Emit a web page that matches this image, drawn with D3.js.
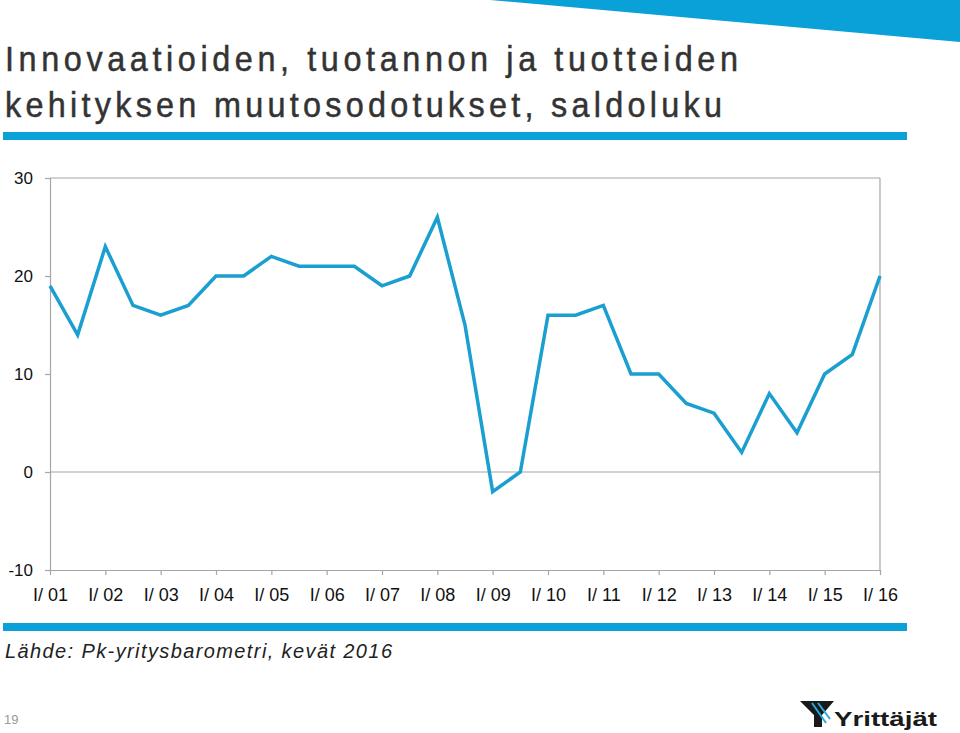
<!DOCTYPE html>
<html>
<head>
<meta charset="utf-8">
<script src="https://cdn.jsdelivr.net/npm/d3@7"></script>
<style>
  html, body { margin: 0; padding: 0; background: #fff; }
  svg { display: block; }
</style>
</head>
<body>
<svg id="chart" width="960" height="733"></svg>
<script>
// ---- Data ----
const titleLines = ["Innovaatioiden, tuotannon ja tuotteiden", "kehityksen muutosodotukset, saldoluku"];
const sourceText = "Lähde: Pk-yritysbarometri, kevät 2016";
const pageNumber = "19";
const tickLabels = ["I/ 01","I/ 02","I/ 03","I/ 04","I/ 05","I/ 06","I/ 07","I/ 08","I/ 09","I/ 10","I/ 11","I/ 12","I/ 13","I/ 14","I/ 15","I/ 16"];
const yTicks = [-10, 0, 10, 20, 30];
// half-year observations from I/01 to I/16
const periods = ["I/01","II/01","I/02","II/02","I/03","II/03","I/04","II/04","I/05","II/05","I/06","II/06","I/07","II/07","I/08","II/08","I/09","II/09","I/10","II/10","I/11","II/11","I/12","II/12","I/13","II/13","I/14","II/14","I/15","II/15","I/16"];
const values = [19,14,23,17,16,17,20,20,22,21,21,21,19,20,26,15,-2,0,16,16,17,10,10,7,6,2,8,4,10,12,20];

// ---- Layout ----
const svg = d3.select("#chart");
const blue = "#0aa0d8";
const plotLeft = 50, plotRight = 880, plotTop = 178, plotBottom = 570;

// decorative top-right stripe
svg.append("polygon").attr("points", "490,0 960,0 960,42").attr("fill", blue);

// title (slightly narrowed glyphs)
const titleFont = "'Liberation Sans', Arial, Helvetica, sans-serif";
const squeeze = 0.9;
const titleWidths = [733, 717];
const titleG = svg.append("g").attr("transform", `translate(5,0) scale(${squeeze},1)`);
titleLines.forEach((t, i) => {
  titleG.append("text")
    .attr("x", 0).attr("y", 71 + i * 46)
    .attr("font-family", titleFont)
    .attr("font-size", 36)
    .attr("fill", "#333")
    .attr("stroke", "#333")
    .attr("stroke-width", 0.5)
    .attr("textLength", titleWidths[i] / squeeze)
    .attr("lengthAdjust", "spacing")
    .text(t);
});
svg.append("rect").attr("x", 3).attr("y", 132).attr("width", 904).attr("height", 8).attr("fill", blue);
svg.append("rect").attr("x", 3).attr("y", 623).attr("width", 904).attr("height", 8).attr("fill", blue);

// scales
const x = d3.scalePoint().domain(periods).range([plotLeft, plotRight]);
const xYear = d3.scalePoint().domain(tickLabels).range([plotLeft, plotRight]);
const y = d3.scaleLinear().domain([-10, 30]).range([plotBottom, plotTop]);

const axisColor = "#a6a6a6";
// frame: top and right borders, zero line
svg.append("line").attr("x1", plotLeft).attr("x2", plotRight).attr("y1", y(30)).attr("y2", y(30)).attr("stroke", axisColor).attr("stroke-width", 1.2);
svg.append("line").attr("x1", plotRight).attr("x2", plotRight).attr("y1", y(30)).attr("y2", y(-10)).attr("stroke", axisColor).attr("stroke-width", 1.2);
svg.append("line").attr("x1", plotLeft).attr("x2", plotRight).attr("y1", y(0)).attr("y2", y(0)).attr("stroke", axisColor).attr("stroke-width", 1.2);

const labelFont = "'Liberation Sans', Arial, Helvetica, sans-serif";
// y axis
const yAxis = svg.append("g").attr("transform", `translate(${plotLeft},0)`)
  .call(d3.axisLeft(y).tickValues(yTicks).tickSize(5).tickPadding(12).tickFormat(d => String(d)));
yAxis.select(".domain").attr("stroke", axisColor).attr("stroke-width", 1.2);
yAxis.selectAll(".tick line").attr("stroke", axisColor).attr("stroke-width", 1.2);
yAxis.selectAll(".tick text").attr("font-family", labelFont).attr("font-size", 17).attr("fill", "#111");

// x axis
const xAxis = svg.append("g").attr("transform", `translate(0,${plotBottom})`)
  .call(d3.axisBottom(xYear).tickSize(5).tickPadding(13).tickSizeOuter(0));
xAxis.select(".domain").attr("stroke", axisColor).attr("stroke-width", 1.2);
xAxis.selectAll(".tick line").attr("stroke", axisColor).attr("stroke-width", 1.2);
xAxis.selectAll(".tick text").attr("font-family", labelFont).attr("font-size", 18).attr("fill", "#111");

// line
svg.append("path")
  .datum(values)
  .attr("fill", "none")
  .attr("stroke", "#1a9fd0")
  .attr("stroke-width", 3.5)
  .attr("stroke-linejoin", "miter")
  .attr("d", d3.line().x((d, i) => x(periods[i])).y(d => y(d)));

// source
svg.append("text")
  .attr("x", 5).attr("y", 658)
  .attr("font-family", labelFont)
  .attr("font-style", "italic")
  .attr("font-size", 20)
  .attr("fill", "#222")
  .attr("textLength", 387)
  .attr("lengthAdjust", "spacing")
  .text(sourceText);

// page number
svg.append("text").attr("x", 4).attr("y", 724)
  .attr("font-family", labelFont).attr("font-size", 13).attr("fill", "#999")
  .text(pageNumber);

// logo
const logo = svg.append("g").attr("transform", "translate(800,701)");
logo.append("polygon").attr("points", "0,0 34,0 22,14 22,26 14,26 14,14").attr("fill", "#1a1a1a");
logo.append("line").attr("x1", 12).attr("y1", 2).attr("x2", 26).attr("y2", 22).attr("stroke", "#2aa8e0").attr("stroke-width", 2);
logo.append("line").attr("x1", 18).attr("y1", 2).attr("x2", 30).attr("y2", 18).attr("stroke", "#2aa8e0").attr("stroke-width", 2);
svg.append("text").attr("x", 834).attr("y", 726)
  .attr("font-family", labelFont).attr("font-weight", "bold").attr("font-size", 21).attr("fill", "#1a1a1a")
  .attr("textLength", 103).attr("lengthAdjust", "spacingAndGlyphs")
  .text("Yrittäjät");
</script>
</body>
</html>
